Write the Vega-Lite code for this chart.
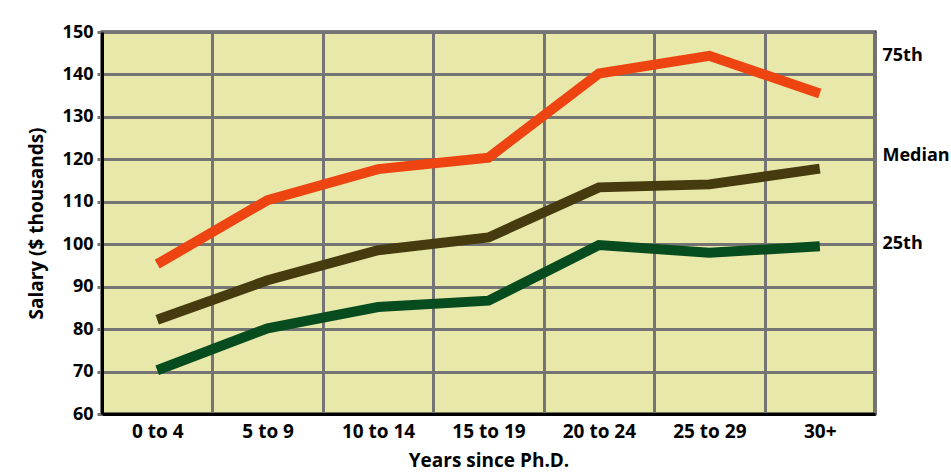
{
  "$schema": "https://vega.github.io/schema/vega-lite/v6.json",
  "autosize": {"type": "none"},
  "width": 773,
  "height": 382,
  "padding": {"left": 102, "top": 32, "right": 76, "bottom": 59},
  "background": "white",
  "config": {
    "view": {"fill": "#E8E8AA", "stroke": "black", "strokeWidth": 3},
    "font": "Open Sans"
  },
  "data": {
    "values": [
      {"series": "75th", "years": "0 to 4", "salary": 95.3},
      {"series": "75th", "years": "5 to 9", "salary": 110.4},
      {"series": "75th", "years": "10 to 14", "salary": 117.7},
      {"series": "75th", "years": "15 to 19", "salary": 120.4},
      {"series": "75th", "years": "20 to 24", "salary": 140.2},
      {"series": "75th", "years": "25 to 29", "salary": 144.4},
      {"series": "75th", "years": "30+", "salary": 135.5},
      {"series": "Median", "years": "0 to 4", "salary": 82.2},
      {"series": "Median", "years": "5 to 9", "salary": 91.5},
      {"series": "Median", "years": "10 to 14", "salary": 98.6},
      {"series": "Median", "years": "15 to 19", "salary": 101.6},
      {"series": "Median", "years": "20 to 24", "salary": 113.4},
      {"series": "Median", "years": "25 to 29", "salary": 114.1},
      {"series": "Median", "years": "30+", "salary": 117.8},
      {"series": "25th", "years": "0 to 4", "salary": 70.3},
      {"series": "25th", "years": "5 to 9", "salary": 80.2},
      {"series": "25th", "years": "10 to 14", "salary": 85.2},
      {"series": "25th", "years": "15 to 19", "salary": 86.7},
      {"series": "25th", "years": "20 to 24", "salary": 99.8},
      {"series": "25th", "years": "25 to 29", "salary": 98.0},
      {"series": "25th", "years": "30+", "salary": 99.5}
    ]
  },
  "layer": [
    {
      "mark": {"type": "line", "strokeWidth": 10, "strokeCap": "butt", "strokeJoin": "miter"},
      "encoding": {
        "x": {
          "field": "years", "type": "nominal",
          "sort": ["0 to 4", "5 to 9", "10 to 14", "15 to 19", "20 to 24", "25 to 29", "30+"],
          "scale": {"type": "band", "paddingInner": 0, "paddingOuter": 0},
          "bandPosition": 0.5,
          "axis": {
            "title": "Years since Ph.D.",
            "labelAngle": 0,
            "tickBand": "extent",
            "grid": true, "gridColor": "#747474", "gridWidth": 3, "gridOpacity": 1,
            "ticks": false,
            "domain": true, "domainColor": "black", "domainWidth": 3,
            "labelFont": "Open Sans", "labelFontSize": 19, "labelFontWeight": "bold", "labelColor": "black", "labelPadding": 8,
            "titleFont": "Open Sans", "titleFontSize": 19, "titleFontWeight": "bold", "titleColor": "black", "titlePadding": 10
          }
        },
        "y": {
          "field": "salary", "type": "quantitative",
          "scale": {"domain": [60, 150], "nice": false, "zero": false},
          "axis": {
            "title": "Salary ($ thousands)",
            "values": [60, 70, 80, 90, 100, 110, 120, 130, 140, 150],
            "grid": true, "gridColor": "#747474", "gridWidth": 3, "gridOpacity": 1,
            "ticks": true, "tickColor": "#747474", "tickWidth": 3, "tickSize": 5,
            "domain": true, "domainColor": "black", "domainWidth": 3,
            "labelFont": "Open Sans", "labelFontSize": 18, "labelFontWeight": "bold", "labelColor": "black", "labelPadding": 4,
            "titleFont": "Open Sans", "titleFontSize": 19, "titleFontWeight": "bold", "titleColor": "black", "titlePadding": 16
          }
        },
        "color": {
          "field": "series", "type": "nominal",
          "scale": {"domain": ["75th", "Median", "25th"], "range": ["#EE4412", "#463A0F", "#064C1F"]},
          "legend": null
        }
      }
    },
    {
      "mark": {"type": "rule", "opacity": 0},
      "encoding": {
        "y": {
          "datum": 100, "type": "quantitative",
          "axis": {
            "orient": "right",
            "title": null,
            "values": [144.5, 121, 100.2],
            "labelExpr": "datum.value > 140 ? '75th' : datum.value > 110 ? 'Median' : '25th'",
            "grid": false, "ticks": false, "domain": false,
            "labelFont": "Open Sans", "labelFontSize": 18, "labelFontWeight": "bold", "labelColor": "black", "labelPadding": 7
          }
        }
      }
    }
  ],
  "resolve": {"axis": {"y": "independent"}}
}
